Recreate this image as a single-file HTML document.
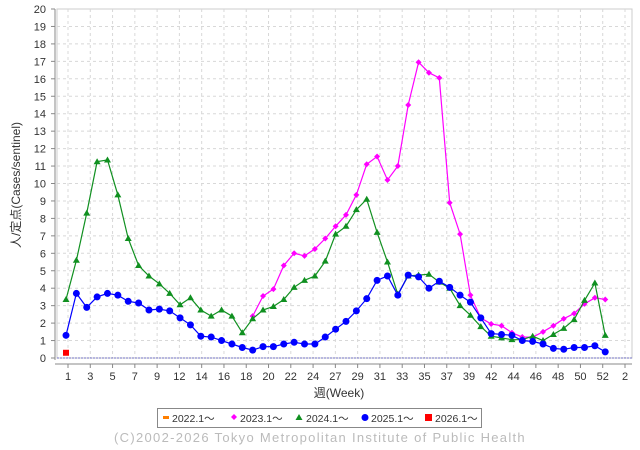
<!DOCTYPE html>
<html><head><meta charset="utf-8"><style>
body{margin:0;background:#fff;}
svg{display:block;font-family:"Liberation Sans","Noto Sans CJK JP",sans-serif;}
</style></head><body>
<svg width="640" height="450" viewBox="0 0 640 450" id="c">
<rect x="0" y="0" width="640" height="450" fill="#fff"/>
<g id="grid"></g>
<g id="axes"></g>
<g id="series"></g>
<text x="20" y="185" transform="rotate(-90 20 185)" text-anchor="middle" font-size="12" fill="#333">人/定点(Cases/sentinel)</text>
<text x="339" y="397" text-anchor="middle" font-size="12" fill="#333">週(Week)</text>
<g>
<rect x="157.5" y="408.5" width="324" height="19" fill="#fff" stroke="#888"/>
<g><rect x="163" y="416" width="6" height="3" fill="#ff7f00"/><text x="172" y="422" font-size="10.5" fill="#333">2022.1～</text></g>
<g><path d="M234,414 l3,3 l-3,3 l-3,-3z" fill="#ff00ff"/><text x="240" y="422" font-size="10.5" fill="#333">2023.1～</text></g>
<g><path d="M299,414 l3.5,6 h-7z" fill="#109020"/><text x="306" y="422" font-size="10.5" fill="#333">2024.1～</text></g>
<g><circle cx="365" cy="417.5" r="3.5" fill="#0000ff"/><text x="371" y="422" font-size="10.5" fill="#333">2025.1～</text></g>
<g><rect x="425" y="414" width="7" height="7" fill="#ff0000"/><text x="435" y="422" font-size="10.5" fill="#333">2026.1～</text></g>
</g>
<text x="320" y="442" text-anchor="middle" font-size="13" fill="#bbb" letter-spacing="1.3">(C)2002-2026 Tokyo Metropolitan Institute of Public Health</text>
</svg>
<script>
const xTickLabels=["1","3","5","7","9","12","14","16","18","20","22","24","27","29","31","33","35","37","39","42","44","46","48","50","52","2"];
const yTicks=[0,1,2,3,4,5,6,7,8,9,10,11,12,13,14,15,16,17,18,19,20];
const s2023Start=18;
const s2023=[2.4,3.55,3.95,5.3,6.0,5.85,6.25,6.85,7.55,8.2,9.35,11.1,11.55,10.2,11.0,14.5,16.95,16.35,16.05,8.9,7.1,3.6,2.3,1.95,1.85,1.45,1.2,1.2,1.5,1.85,2.25,2.55,3.1,3.45,3.35];
const s2024=[3.35,5.6,8.3,11.25,11.35,9.35,6.85,5.3,4.7,4.25,3.7,3.05,3.45,2.75,2.4,2.75,2.4,1.45,2.25,2.75,2.95,3.35,4.05,4.45,4.7,5.55,7.1,7.55,8.5,9.1,7.2,5.5,3.65,4.7,4.75,4.8,4.35,4.0,3.0,2.45,1.8,1.25,1.15,1.05,1.05,1.25,1.0,1.35,1.7,2.2,3.3,4.3,1.3];
const s2025=[1.3,3.7,2.9,3.5,3.7,3.6,3.25,3.15,2.75,2.8,2.7,2.3,1.9,1.25,1.2,1.0,0.8,0.6,0.45,0.65,0.65,0.8,0.9,0.8,0.8,1.2,1.65,2.1,2.7,3.4,4.45,4.7,3.6,4.75,4.65,4.0,4.4,4.05,3.6,3.2,2.3,1.4,1.35,1.3,1.0,0.95,0.8,0.55,0.5,0.6,0.6,0.7,0.35];
const s2026=[0.3];

const NS="http://www.w3.org/2000/svg";
const L=57,R=632,T=9,B=358;
const y=v=>B-v*(B-T)/20;
const xi=i=>66+i*10.37;
const xt=i=>68+i*(625-68)/25;
function mk(tag,attrs,parent){const e=document.createElementNS(NS,tag);for(const k in attrs)e.setAttribute(k,attrs[k]);parent.appendChild(e);return e;}
const grid=document.getElementById('grid'),axes=document.getElementById('axes'),ser=document.getElementById('series');
mk('rect',{x:L,y:T,width:R-L,height:B-T,fill:'#fff',stroke:'#ccc'},grid);
yTicks.forEach(v=>{
  if(v>0&&v<20){const g=mk('line',{x1:L,x2:R,y1:y(v),y2:y(v),stroke:'#d8d8d8','stroke-dasharray':'3,3'},grid);
  
  }
  const t=mk('text',{x:46,y:y(v)+4,'text-anchor':'end','font-size':'11',fill:'#333'},axes);t.textContent=v;
  
  
  mk('line',{x1:51,x2:55,y1:y(v),y2:y(v),stroke:'#888'},axes);
});
xTickLabels.forEach((lab,i)=>{
  const x=xt(i);
  const g=mk('line',{x1:x,x2:x,y1:T,y2:B,stroke:'#d8d8d8','stroke-dasharray':'3,3'},grid);
  
  
  mk('line',{x1:x,x2:x,y1:364,y2:368,stroke:'#888'},axes);
  const t=mk('text',{x:x,y:380,'text-anchor':'middle','font-size':'11',fill:'#333'},axes);t.textContent=lab;
  
  
});
mk('line',{x1:55,x2:55,y1:T,y2:B+2,stroke:'#888'},axes);
mk('line',{x1:55,x2:R,y1:364,y2:364,stroke:'#888'},axes);
mk('line',{x1:L,x2:R,y1:B,y2:B,stroke:'#7070c0','stroke-dasharray':'2,1'},axes);

function drawSeries(vals,start,color,shape,name){
  const g=mk('g',{},ser);
  
  
  if(vals.length>1){
    const pts=vals.map((v,i)=>xi(start+i).toFixed(1)+','+y(v).toFixed(1)).join(' ');
    mk('polyline',{points:pts,fill:'none',stroke:color,'stroke-width':'1.2'},g);
  }
  vals.forEach((v,i)=>{
    const cx=xi(start+i),cy=y(v);let m;
    if(shape==='circle')m=mk('circle',{cx:cx,cy:cy,r:3.5,fill:color},g);
    else if(shape==='tri')m=mk('path',{d:`M${cx},${cy-3.5} l3.5,6 h-7z`,fill:color},g);
    else if(shape==='diamond')m=mk('path',{d:`M${cx},${cy-3} l3,3 l-3,3 l-3,-3z`,fill:color},g);
    else m=mk('rect',{x:cx-3,y:cy-3,width:6,height:6,fill:color},g);
    
    
  });
}
drawSeries(s2023,s2023Start,'#ff00ff','diamond','series-2023');
drawSeries(s2024,0,'#109020','tri','series-2024');
drawSeries(s2025,0,'#0000ff','circle','series-2025');
drawSeries(s2026,0,'#ff0000','square','series-2026');
</script>
</body></html>
